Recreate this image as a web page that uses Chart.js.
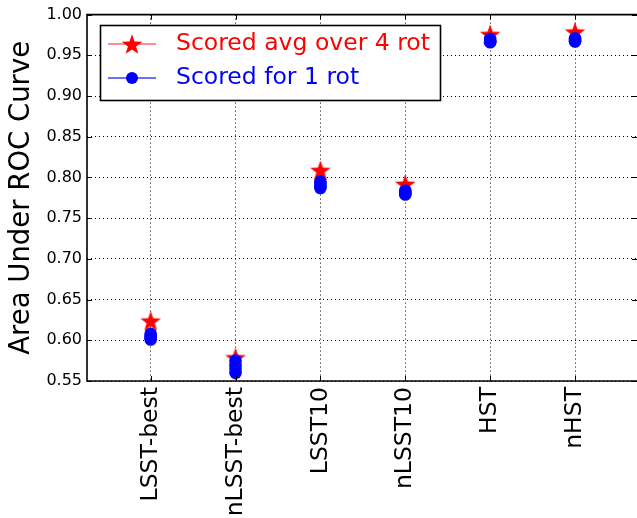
<!DOCTYPE html>
<html>
<head>
<meta charset="utf-8">
<script src="https://cdn.jsdelivr.net/npm/chart.js@4/dist/chart.umd.min.js"></script>
<style>
html,body{margin:0;padding:0;background:#fff;}
#wrap{width:637px;height:518px;}
</style>
</head>
<body>
<div id="wrap"><canvas id="c" width="637" height="518"></canvas></div>
<script>
// ---- data ----
const categories = ["LSST-best", "nLSST-best", "LSST10", "nLSST10", "HST", "nHST"];
const avgOver4Rot = [0.624, 0.579, 0.809, 0.792, 0.976, 0.979];
const rotA = [0.608, 0.575, 0.795, 0.784, 0.970, 0.971];
const rotB = [0.605, 0.570, 0.792, 0.782, 0.968, 0.969];
const rotC = [0.603, 0.565, 0.789, 0.780, 0.967, 0.968];
const rotD = [0.601, 0.560, 0.787, 0.779, 0.966, 0.967];
const yTicks = [0.55, 0.60, 0.65, 0.70, 0.75, 0.80, 0.85, 0.90, 0.95, 1.00];
const seriesLabels = ["Scored avg over 4 rot", "Scored for 1 rot"];

const FONT = "DejaVu Sans";

function makeStar(R, color) {
  const size = Math.ceil(2 * R + 2);
  const c = document.createElement('canvas');
  c.width = size; c.height = size;
  const g = c.getContext('2d');
  const cx = size / 2, cy = size / 2 + R * 0.1;
  const r = R * 0.4;
  g.beginPath();
  for (let i = 0; i < 10; i++) {
    const rad = i % 2 === 0 ? R : r;
    const a = -Math.PI / 2 + i * Math.PI / 5;
    const x = cx + rad * Math.cos(a), y = cy + rad * Math.sin(a);
    if (i === 0) g.moveTo(x, y); else g.lineTo(x, y);
  }
  g.closePath();
  g.fillStyle = color;
  g.fill();
  return c;
}
const starImg = makeStar(10.8, '#ff0000');

const avgData = avgOver4Rot.map((v, i) => ({x: i, y: v}));
const rotData = [];
[rotA, rotB, rotC, rotD].forEach(arr => arr.forEach((v, i) => rotData.push({x: i, y: v})));

const framePlugin = {
  id: 'frame',
  afterDatasetsDraw(chart) {
    const {ctx, chartArea: a, scales} = chart;
    ctx.save();
    ctx.setLineDash([]);
    ctx.strokeStyle = '#000';
    ctx.lineWidth = 1;
    const tl = 5;
    scales.y.ticks.forEach(t => {
      const y = Math.round(scales.y.getPixelForValue(t.value)) + 0.5;
      ctx.beginPath();
      ctx.moveTo(a.left, y); ctx.lineTo(a.left + tl, y);
      ctx.moveTo(a.right, y); ctx.lineTo(a.right - tl, y);
      ctx.stroke();
    });
    scales.x.ticks.forEach(t => {
      const x = Math.round(scales.x.getPixelForValue(t.value)) + 0.5;
      ctx.beginPath();
      ctx.moveTo(x, a.bottom); ctx.lineTo(x, a.bottom - tl);
      ctx.moveTo(x, a.top); ctx.lineTo(x, a.top + tl);
      ctx.stroke();
    });
    ctx.lineWidth = 1.6;
    ctx.strokeStyle = '#000';
    ctx.beginPath();
    ctx.moveTo(a.right + 2, a.top);
    ctx.lineTo(a.left, a.top);
    ctx.lineTo(a.left, a.bottom);
    ctx.lineTo(a.right + 2, a.bottom);
    ctx.stroke();
    ctx.restore();
  },
  afterDraw(chart) {
    const ctx = chart.ctx;
    ctx.save();
    ctx.setLineDash([]);
    const bx = 100, by = 25, bw = 340, bh = 75;
    ctx.fillStyle = '#fff';
    ctx.fillRect(bx, by, bw, bh);
    ctx.lineWidth = 1.6;
    ctx.strokeStyle = '#000';
    ctx.strokeRect(bx + 0.5, by + 0.5, bw, bh);
    const rows = [44, 78];
    const lx1 = 108, lx2 = 156, mx = 132;
    ctx.lineWidth = 1.5;
    ctx.strokeStyle = 'rgba(255,0,0,0.6)';
    ctx.beginPath(); ctx.moveTo(lx1, rows[0]); ctx.lineTo(lx2, rows[0]); ctx.stroke();
    ctx.drawImage(starImg, mx - starImg.width / 2, rows[0] - starImg.height / 2);
    ctx.strokeStyle = 'rgba(0,0,255,0.75)';
    ctx.beginPath(); ctx.moveTo(lx1, rows[1]); ctx.lineTo(lx2, rows[1]); ctx.stroke();
    ctx.fillStyle = '#0000ff';
    ctx.beginPath(); ctx.arc(mx, rows[1], 6, 0, Math.PI * 2); ctx.fill();
    ctx.font = '23.5px "' + FONT + '"';
    ctx.textBaseline = 'middle';
    ctx.textAlign = 'left';
    ctx.fillStyle = '#ff0000';
    ctx.fillText(seriesLabels[0], 176, rows[0]);
    ctx.fillStyle = '#0000ff';
    ctx.fillText(seriesLabels[1], 176, rows[1]);
    ctx.restore();
  }
};

new Chart(document.getElementById('c'), {
  type: 'scatter',
  data: {
    datasets: [
      {
        label: seriesLabels[0],
        data: avgData,
        pointStyle: starImg,
        pointRadius: 10,
        backgroundColor: '#ff0000',
        borderColor: '#ff0000',
        showLine: false,
        order: 1
      },
      {
        label: seriesLabels[1],
        data: rotData,
        pointStyle: 'circle',
        pointRadius: 6.3,
        borderWidth: 0,
        backgroundColor: '#0000ff',
        borderColor: '#0000ff',
        showLine: false,
        order: 0
      }
    ]
  },
  options: {
    responsive: false,
    animation: false,
    devicePixelRatio: 1,
    layout: {autoPadding: false, padding: {top: 14, right: 0, left: 0, bottom: 0}},
    plugins: {legend: {display: false}, tooltip: {enabled: false}},
    scales: {
      x: {
        type: 'linear',
        min: -0.75,
        max: 5.73,
        afterBuildTicks(scale) { scale.ticks = categories.map((_, i) => ({value: i})); },
        afterFit(scale) { scale.height = 137; scale.paddingLeft = 0; scale.paddingRight = 0; },
        ticks: {
          autoSkip: false,
          minRotation: 90,
          maxRotation: 90,
          padding: 6,
          color: '#000',
          font: {family: FONT, size: 23.5},
          callback: (v) => categories[v]
        },
        grid: {color: '#000', lineWidth: 1, drawTicks: false},
        border: {display: false, dash: [1, 3]}
      },
      y: {
        min: 0.55,
        max: 1.00,
        afterBuildTicks(scale) { scale.ticks = yTicks.map(v => ({value: v})); },
        afterFit(scale) { scale.width = 87; },
        ticks: {
          padding: 5,
          color: '#000',
          font: {family: FONT, size: 16},
          callback: (v) => Number(v).toFixed(2)
        },
        grid: {color: '#000', lineWidth: 1, drawTicks: false},
        border: {display: false, dash: [1, 3]},
        title: {
          display: true,
          text: 'Area Under ROC Curve',
          color: '#000',
          font: {family: FONT, size: 27.5},
          padding: {top: 5, bottom: 0}
        }
      }
    }
  },
  plugins: [framePlugin]
});
</script>
</body>
</html>
